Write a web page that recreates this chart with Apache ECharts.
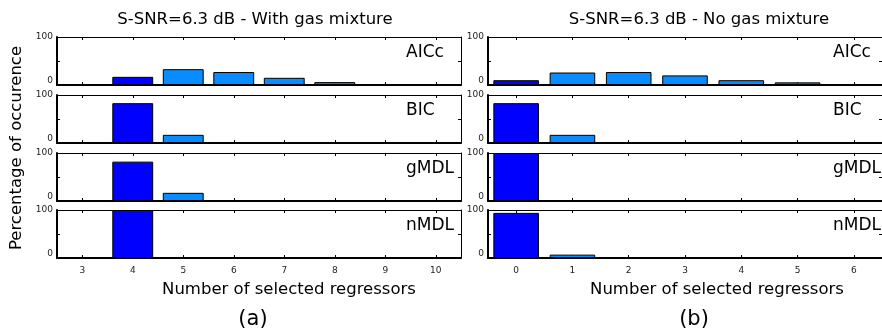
<!DOCTYPE html>
<html>
<head>
<meta charset="utf-8">
<script src="https://cdn.jsdelivr.net/npm/echarts@6/dist/echarts.min.js"></script>
<style>html,body{margin:0;padding:0;background:#fff}#c{width:882px;height:334px}</style>
</head>
<body>
<div id="c"></div>
<script>
// ---- data ----
const criteria = ['AICc', 'BIC', 'gMDL', 'nMDL'];
const withGasCats = ['3', '4', '5', '6', '7', '8', '9', '10'];
const noGasCats = ['0', '1', '2', '3', '4', '5', '6'];
const withGasTrueIndex = 1; // category "4"
const noGasTrueIndex = 0;   // category "0"
const withGas_AICc = [0, 17, 33, 27, 15, 6, 1.2, 0.8];
const withGas_BIC  = [0, 83, 17, 0.5, 0, 0, 0, 0];
const withGas_gMDL = [0, 82, 17, 1.5, 0, 0, 0, 0];
const withGas_nMDL = [0, 100, 0, 0, 0, 0, 0, 0];
const noGas_AICc = [10, 26, 27, 20, 10, 5.5, 1];
const noGas_BIC  = [83, 17, 1, 0, 0, 0, 0];
const noGas_gMDL = [100, 0, 0, 0, 0, 0, 0];
const noGas_nMDL = [94, 7, 0, 0, 0, 0, 0];
const yTickLabels = ['0', '100'];
const titleWith = 'S-SNR=6.3 dB - With gas mixture';
const titleNo = 'S-SNR=6.3 dB - No gas mixture';
const xName = 'Number of selected regressors';
const yName = 'Percentage of occurence';

// ---- layout ----
const FONT = '"DejaVu Sans", sans-serif';
const DARK = '#0000ff', LIGHT = '#088cff';
const rowTops = [37, 95, 153, 210];
const rowH = 48;
const panels = [
  {left: 57, width: 404, cats: withGasCats, trueIdx: withGasTrueIndex,
   data: [withGas_AICc, withGas_BIC, withGas_gMDL, withGas_nMDL], labelX: 406},
  {left: 488, width: 404, cats: noGasCats, trueIdx: noGasTrueIndex,
   data: [noGas_AICc, noGas_BIC, noGas_gMDL, noGas_nMDL], labelX: 833}
];

const grid = [], xAxis = [], yAxis = [], series = [], graphic = [];
panels.forEach((p, pi) => {
  criteria.forEach((crit, ri) => {
    const gi = grid.length;
    grid.push({left: p.left, top: rowTops[ri], width: p.width, height: rowH, containLabel: false});
    const last = ri === criteria.length - 1;
    xAxis.push({
      type: 'category', gridIndex: gi, data: p.cats, position: 'bottom',
      axisLine: {show: true, onZero: false, lineStyle: {color: '#000', width: 2}},
      axisTick: {show: true, inside: true, length: 3, alignWithLabel: true, lineStyle: {color: '#000'}},
      axisLabel: {show: last, margin: 8, fontSize: 9, fontFamily: FONT, color: '#222'},
      splitLine: {show: false}
    });
    xAxis.push({
      type: 'category', gridIndex: gi, data: p.cats, position: 'top',
      axisLine: {show: true, onZero: false, lineStyle: {color: '#000', width: 1}},
      axisTick: {show: true, inside: true, length: 3, alignWithLabel: true, lineStyle: {color: '#000'}},
      axisLabel: {show: false}, splitLine: {show: false}
    });
    yAxis.push({
      type: 'value', gridIndex: gi, min: 0, max: 100, interval: 50, position: 'left',
      axisLine: {show: true, lineStyle: {color: '#000', width: 2}},
      axisTick: {show: true, inside: true, length: 3, lineStyle: {color: '#000'}},
      axisLabel: {
        margin: 4, fontSize: 9, fontFamily: FONT, color: '#222',
        formatter: v => v === 0 ? '{z|' + yTickLabels[0] + '}' : (v === 100 ? yTickLabels[1] : ''),
        rich: {z: {fontSize: 9, fontFamily: FONT, color: '#222', padding: [0, 0, 9, 0]}}
      },
      splitLine: {show: false}
    });
    yAxis.push({
      type: 'value', gridIndex: gi, min: 0, max: 100, interval: 50, position: 'right',
      axisLine: {show: true, lineStyle: {color: '#000', width: 1}},
      axisTick: {show: true, inside: true, length: 3, lineStyle: {color: '#000'}},
      axisLabel: {show: false}, splitLine: {show: false}
    });
    series.push({
      type: 'bar', xAxisIndex: gi * 2, yAxisIndex: gi * 2, barWidth: '81%',
      data: p.data[ri].map((v, i) => ({value: v, itemStyle: {color: i === p.trueIdx ? DARK : LIGHT}})),
      itemStyle: {borderColor: '#000', borderWidth: 1},
      animation: false, silent: true
    });
    graphic.push({type: 'text', x: p.labelX, y: rowTops[ri] + 16,
      style: {text: crit, font: '17px ' + FONT, fill: '#000', textAlign: 'left', textVerticalAlign: 'middle'}});
  });
});

graphic.push({type: 'text', x: 255, y: 20, style: {text: titleWith, font: '16.5px ' + FONT, fill: '#000', textAlign: 'center', textVerticalAlign: 'middle'}});
graphic.push({type: 'text', x: 699, y: 20, style: {text: titleNo, font: '16.5px ' + FONT, fill: '#000', textAlign: 'center', textVerticalAlign: 'middle'}});
graphic.push({type: 'text', x: 289, y: 290, style: {text: xName, font: '16.5px ' + FONT, fill: '#000', textAlign: 'center', textVerticalAlign: 'middle'}});
graphic.push({type: 'text', x: 717, y: 290, style: {text: xName, font: '16.5px ' + FONT, fill: '#000', textAlign: 'center', textVerticalAlign: 'middle'}});
graphic.push({type: 'text', x: 253, y: 320, style: {text: '(a)', font: '21px ' + FONT, fill: '#000', textAlign: 'center', textVerticalAlign: 'middle'}});
graphic.push({type: 'text', x: 694, y: 320, style: {text: '(b)', font: '21px ' + FONT, fill: '#000', textAlign: 'center', textVerticalAlign: 'middle'}});
graphic.push({type: 'text', x: 17, y: 148, rotation: Math.PI / 2, style: {text: yName, font: '16.5px ' + FONT, fill: '#000', textAlign: 'center', textVerticalAlign: 'middle'}});

const chart = echarts.init(document.getElementById('c'), null, {renderer: 'canvas'});
chart.setOption({
  backgroundColor: '#fff',
  animation: false,
  grid, xAxis, yAxis, series, graphic
});
</script>
</body>
</html>
